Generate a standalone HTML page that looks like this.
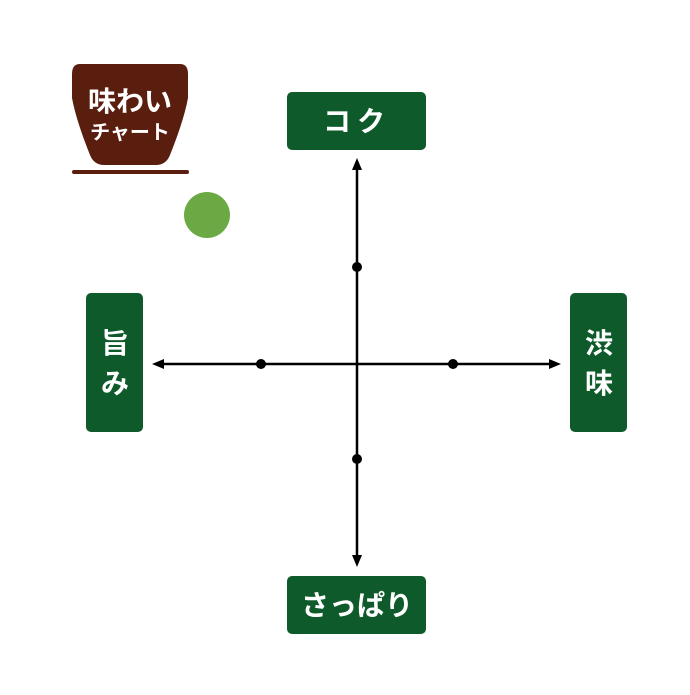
<!DOCTYPE html>
<html><head><meta charset="utf-8"><style>
body{margin:0;background:#fff;width:690px;height:690px;overflow:hidden}
svg text{font-family:"Liberation Sans","Noto Sans CJK JP",sans-serif;font-weight:bold;fill:#fff}
</style></head><body>
<svg width="690" height="690" viewBox="0 0 690 690">
<path d="M80,64 H180 Q188,64 188,74 V98 Q184,120 170,155 Q166,165 156,165 H104 Q94,165 90,155 Q76,120 72,98 V74 Q72,64 80,64 Z" fill="#5a1e0e"/>
<rect x="72" y="170" width="117" height="4" rx="2" fill="#5a1e0e"/>
<text x="130" y="111" font-size="28" text-anchor="middle">味わい</text>
<text x="130" y="139" font-size="20" text-anchor="middle">チャート</text>
<circle cx="207" cy="215" r="23" fill="#6aa943"/>
<g fill="#0e5a2a">
<rect x="287" y="92" width="139" height="58" rx="5"/>
<rect x="287" y="576" width="139" height="58" rx="5"/>
<rect x="86" y="293" width="57" height="139" rx="5"/>
<rect x="570" y="293" width="57" height="139" rx="5"/>
</g>
<text x="357" y="131" font-size="28" text-anchor="middle" letter-spacing="6">コク</text>
<text x="357" y="615" font-size="28" text-anchor="middle">さっぱり</text>
<text x="115" y="353" font-size="28" text-anchor="middle">旨</text>
<text x="115" y="393" font-size="28" text-anchor="middle">み</text>
<text x="599" y="353" font-size="28" text-anchor="middle">渋</text>
<text x="599" y="393" font-size="28" text-anchor="middle">味</text>
<g stroke="#000" stroke-width="2.5">
<line x1="357" y1="166" x2="357" y2="560"/>
<line x1="159" y1="364" x2="554" y2="364"/>
</g>
<g fill="#000">
<path d="M357,158 L352,170 L362,170Z"/>
<path d="M357,567 L352,555 L362,555Z"/>
<path d="M152,364 L164,359 L164,369Z"/>
<path d="M561,364 L549,359 L549,369Z"/>
<circle cx="357" cy="267" r="5"/>
<circle cx="357" cy="459" r="5"/>
<circle cx="261" cy="364" r="5"/>
<circle cx="453" cy="364" r="5"/>
</g>
</svg>
</body></html>
